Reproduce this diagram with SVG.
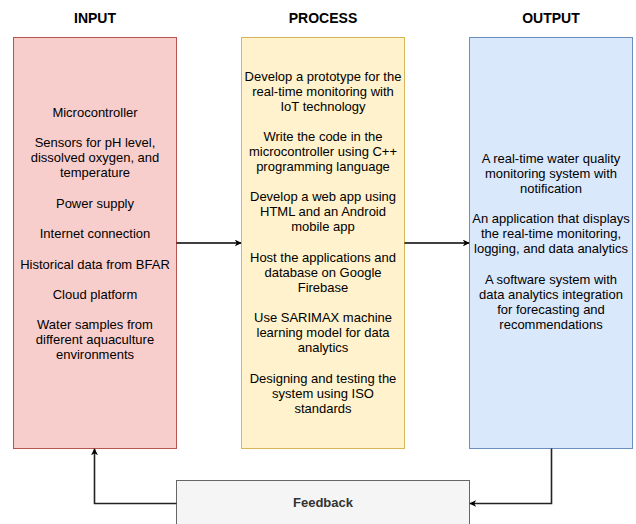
<svg xmlns="http://www.w3.org/2000/svg" width="636" height="524" viewBox="0 0 636 524">
<defs>
<style>
.t{font-family:"Liberation Sans",Arial,sans-serif;font-size:13px;fill:#000;text-anchor:middle}
.h{font-family:"Liberation Sans",Arial,sans-serif;font-size:14px;font-weight:bold;fill:#000;text-anchor:middle}
.f{font-family:"Liberation Sans",Arial,sans-serif;font-size:13px;font-weight:bold;fill:#333;text-anchor:middle}
.c{fill:none;stroke:#000;stroke-width:1.3}
.fb{fill:none;stroke:#222;stroke-width:1.6}
</style>
<marker id="a" viewBox="0 0 10 10" refX="9" refY="5" markerWidth="7" markerHeight="7" markerUnits="userSpaceOnUse" orient="auto">
<path d="M0,0 L10,5 L0,10 L3,5 Z" fill="#000"/>
</marker>
</defs>
<rect width="636" height="524" fill="#fff"/>
<text class="h" x="95" y="23">INPUT</text>
<text class="h" x="323" y="23">PROCESS</text>
<text class="h" x="551" y="23">OUTPUT</text>
<g id="input">
<rect x="13.5" y="37.5" width="163" height="411" fill="#f8cecc" stroke="#b85450"/>
<text class="t" x="95" y="117">Microcontroller</text>
<text class="t" x="95" y="147">Sensors for pH level,</text>
<text class="t" x="95" y="162">dissolved oxygen, and</text>
<text class="t" x="95" y="177">temperature</text>
<text class="t" x="95" y="208">Power supply</text>
<text class="t" x="95" y="238">Internet connection</text>
<text class="t" x="95" y="269">Historical data from BFAR</text>
<text class="t" x="95" y="299">Cloud platform</text>
<text class="t" x="95" y="329">Water samples from</text>
<text class="t" x="95" y="344">different aquaculture</text>
<text class="t" x="95" y="359">environments</text>
</g>
<g id="process">
<rect x="241.5" y="37.5" width="163" height="411" fill="#fff2cc" stroke="#d6b656"/>
<text class="t" x="323" y="81">Develop a prototype for the</text>
<text class="t" x="323" y="96">real-time monitoring with</text>
<text class="t" x="323" y="111">IoT technology</text>
<text class="t" x="323" y="141">Write the code in the</text>
<text class="t" x="323" y="156">microcontroller using C++</text>
<text class="t" x="323" y="171">programming language</text>
<text class="t" x="323" y="201">Develop a web app using</text>
<text class="t" x="323" y="216">HTML and an Android</text>
<text class="t" x="323" y="231">mobile app</text>
<text class="t" x="323" y="262">Host the applications and</text>
<text class="t" x="323" y="277">database on Google</text>
<text class="t" x="323" y="292">Firebase</text>
<text class="t" x="323" y="322">Use SARIMAX machine</text>
<text class="t" x="323" y="337">learning model for data</text>
<text class="t" x="323" y="352">analytics</text>
<text class="t" x="323" y="383">Designing and testing the</text>
<text class="t" x="323" y="398">system using ISO</text>
<text class="t" x="323" y="413">standards</text>
</g>
<g id="output">
<rect x="469.5" y="37.5" width="163" height="411" fill="#dae8fc" stroke="#6c8ebf"/>
<text class="t" x="551" y="163">A real-time water quality</text>
<text class="t" x="551" y="178">monitoring system with</text>
<text class="t" x="551" y="193">notification</text>
<text class="t" x="551" y="223">An application that displays</text>
<text class="t" x="551" y="238">the real-time monitoring,</text>
<text class="t" x="551" y="253">logging, and data analytics</text>
<text class="t" x="551" y="284">A software system with</text>
<text class="t" x="551" y="299">data analytics integration</text>
<text class="t" x="551" y="314">for forecasting and</text>
<text class="t" x="551" y="329">recommendations</text>
</g>
<g id="feedback">
<rect x="176.5" y="480.5" width="293" height="60" fill="#f5f5f5" stroke="#666"/>
<text class="f" x="323" y="507">Feedback</text>
</g>
<g id="connectors">
<path class="c" d="M176.5,243 L241,243" marker-end="url(#a)"/>
<path class="c" d="M404.5,243 L469,243" marker-end="url(#a)"/>
<path class="fb" d="M176.5,503.5 L94.5,503.5 L94.5,449" marker-end="url(#a)"/>
<path class="fb" d="M551.5,448.5 L551.5,503.5 L470,503.5" marker-end="url(#a)"/>
</g>
</svg>
